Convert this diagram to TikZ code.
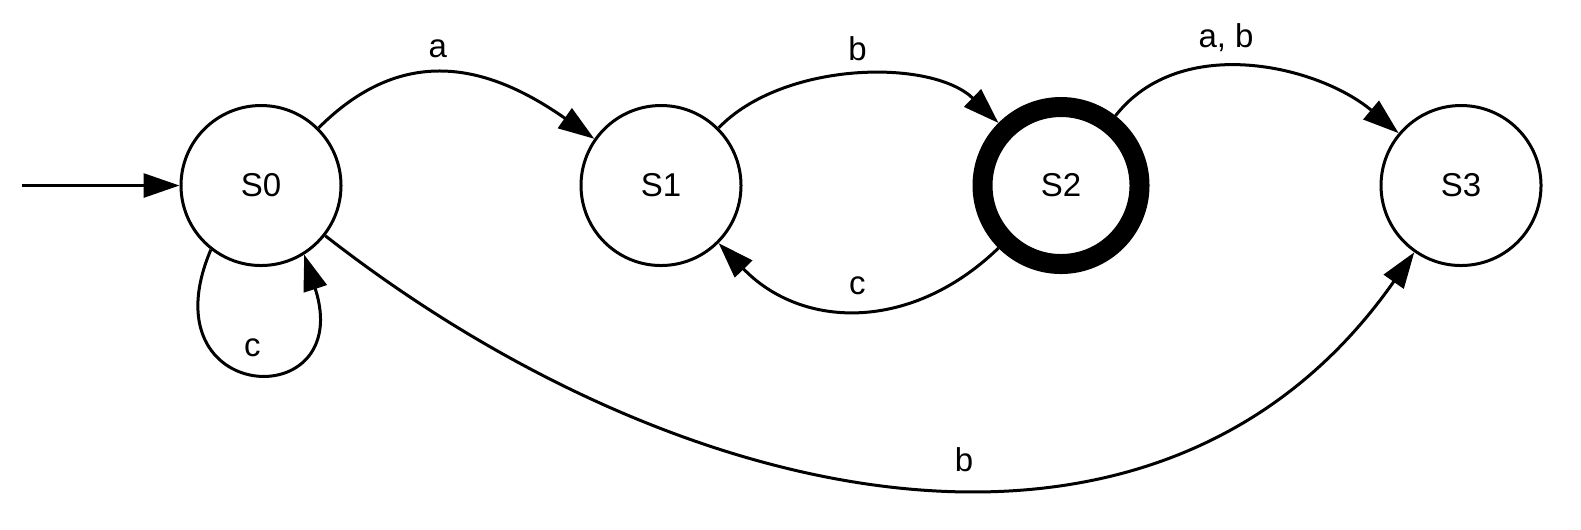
\documentclass[tikz,border=0pt]{standalone}
\usepackage{fontspec}
\setmainfont{Liberation Sans}
\usetikzlibrary{automata, positioning, arrows.meta}

\begin{document}
\begin{tikzpicture}[->,>={Triangle[length=9pt,width=6pt]},auto,node distance=100pt,line width=0.75pt,x=0.25pt,y=0.25pt,
    font={\fontsize{8.25}{10}\selectfont},
    every state/.style={draw,minimum size=40pt,inner sep=0pt},
    finalstate/.style={line width=5pt,minimum size=39.25pt}]
        \useasboundingbox (0,0) rectangle (1581,-529);
        \node[state] (S0) at (261,-185.5) {S0};
        \node[state] (S1) [right of=S0] {S1};
        \node[state,finalstate] (S2) [right of=S1] {S2};
        \node[state] (S3) [right of=S2] {S3};
        \coordinate[left=39.5pt of S0.west] (start);

        \draw (start) -- (S0);
        \path (S0) edge [out=45, in=145, looseness=1.15] node[pos=0.45] {a} (S1)
                   edge [out=-38, in=235, looseness=1.05] node[pos=0.55] {b} (S3)
              (S0.232) edge [out=247, in=288, distance=42.5pt] node {c} (S0.302)
              (S1) edge [bend left=45, looseness=0.85] node {b} (S2)
              (S2) edge [bend left=45, looseness=1.1] node[swap] {c} (S1)
                   edge [out=52, in=140, looseness=0.95] node[pos=0.42] {a, b} (S3);
\end{tikzpicture}
\end{document}
